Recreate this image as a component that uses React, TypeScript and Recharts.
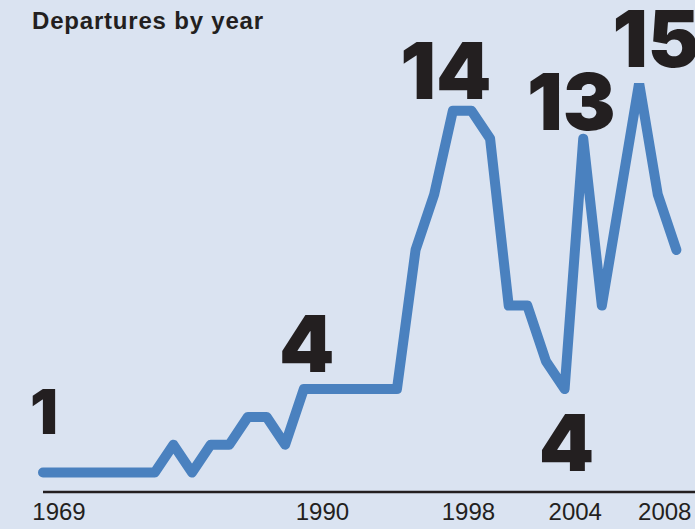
import { LineChart, Line, XAxis, YAxis, LabelList } from 'recharts';

// first point is the 1969 figure, then yearly from 1976
const years = [
  1969, 1976, 1977, 1978, 1979, 1980, 1981, 1982, 1983, 1984, 1985, 1986,
  1987, 1988, 1989, 1990, 1991, 1992, 1993, 1994, 1995, 1996, 1997, 1998,
  1999, 2000, 2001, 2002, 2003, 2004, 2005, 2006, 2007, 2008, 2009,
];
const departures = [
  1, 1, 1, 1, 1, 1, 1, 2, 1, 2, 2, 3,
  3, 2, 4, 4, 4, 4, 4, 4, 9, 11, 14, 14,
  13, 7, 7, 5, 4, 13, 7, 11, 15, 11, 9,
];
const tickYears = [1969, 1990, 1998, 2004, 2008];
const calloutYears = [1969, 1989, 1997, 2003, 2004, 2007];

const data = years.map((year, i) => ({ i, year, v: departures[i] }));

const BG = '#dae3f1';
const INK = '#231f20';
const BLUE = '#4a81bf';

// label nudges, keyed by year
const tickNudge: Record<number, number> = { 1969: 16, 1990: 0, 1998: -3, 2004: -8, 2008: 7 };
const calloutPos: Record<number, { dx: number; dy: number; size: number }> = {
  1969: { dx: 1, dy: -39, size: 62 },
  1989: { dx: 3, dy: -17, size: 79 },
  1997: { dx: -7, dy: -12, size: 79 },
  2003: { dx: 2, dy: 82, size: 79 },
  2004: { dx: -12, dy: -9, size: 79 },
  2007: { dx: 17, dy: -16, size: 78 },
};

function YearTick(props: any) {
  const { x, y, payload } = props;
  const year = years[payload.value];
  return (
    <text
      x={x + (tickNudge[year] ?? 0)} y={y + 20} textAnchor="middle"
      fontFamily="'Liberation Sans', Arial, sans-serif" fontSize={24} fill={INK}
    >
      {year}
    </text>
  );
}

function Callout(props: any) {
  const { x, y, index, value } = props;
  const year = years[index];
  if (!calloutYears.includes(year)) return null;
  const p = calloutPos[year];
  return (
    <text
      x={x + p.dx} y={y + p.dy} textAnchor="middle"
      fontFamily="Inter, 'DejaVu Sans', sans-serif" fontWeight={900}
      fontSize={p.size} fill={INK}
    >
      {value}
    </text>
  );
}

export default function App() {
  return (
    <div style={{ position: 'absolute', left: 0, top: 0, width: 695, height: 529, background: BG, overflow: 'hidden' }}>
      <div
        style={{
          position: 'absolute', left: 32, top: 9, fontFamily: "'Liberation Sans', Arial, sans-serif",
          fontWeight: 700, fontSize: 24, lineHeight: '24px', letterSpacing: 0.8, color: INK,
        }}
      >
        Departures by year
      </div>
      <LineChart width={695} height={529} data={data} margin={{ top: 83, right: 0, bottom: 7, left: 43 }}>
        <XAxis
          dataKey="i" type="number" domain={[0, 35]} ticks={tickYears.map((y) => years.indexOf(y))}
          interval={0} height={30} tickLine={false} axisLine={{ stroke: INK, strokeWidth: 2.5 }}
          tick={<YearTick />}
        />
        <YAxis hide domain={[0.3, 15]} allowDataOverflow />
        <Line
          type="linear" dataKey="v" stroke={BLUE} strokeWidth={10} dot={false}
          strokeLinejoin="round" strokeLinecap="round" isAnimationActive={false}
        >
          <LabelList dataKey="v" content={<Callout />} />
        </Line>
      </LineChart>
    </div>
  );
}
